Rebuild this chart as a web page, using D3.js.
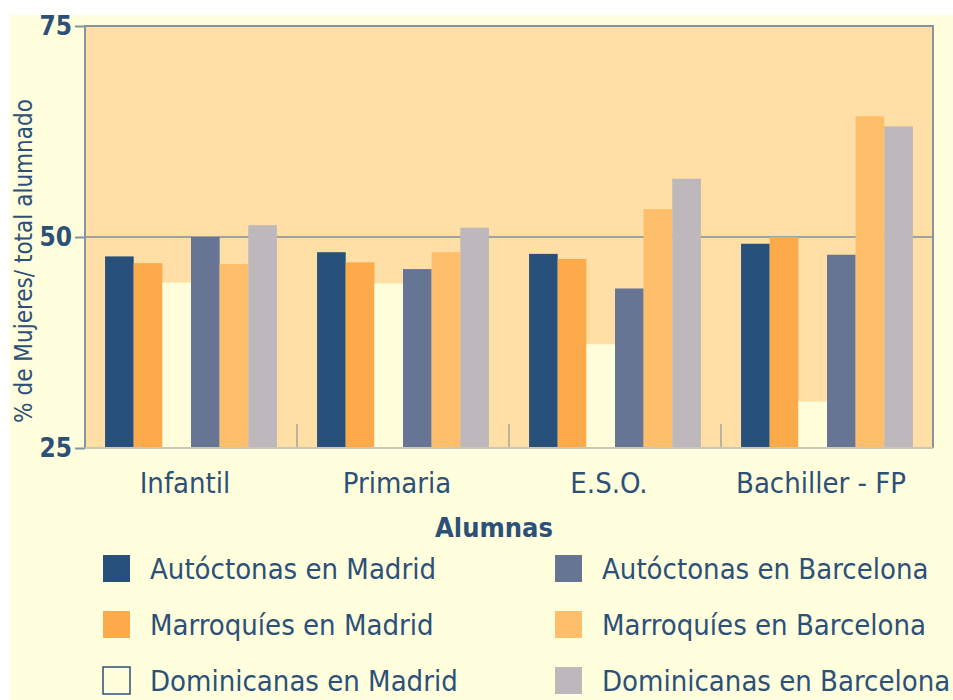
<!DOCTYPE html>
<html>
<head>
<meta charset="utf-8">
<script src="https://cdn.jsdelivr.net/npm/d3@7"></script>
<style>
  body { margin: 0; background: #ffffff; }
  text { font-family: "DejaVu Sans Condensed", "DejaVu Sans", sans-serif; fill: #2d5078; }
</style>
</head>
<body>
<div id="chart"></div>
<script>
// data
const categories = ["Infantil", "Primaria", "E.S.O.", "Bachiller - FP"];
const series = ["Autóctonas en Madrid", "Marroquíes en Madrid", "Dominicanas en Madrid",
                "Autóctonas en Barcelona", "Marroquíes en Barcelona", "Dominicanas en Barcelona"];
const autoctonasMadrid    = [47.7, 48.2, 48.0, 49.2];
const marroquiesMadrid    = [46.9, 47.0, 47.4, 50.0];
const dominicanasMadrid   = [44.6, 44.5, 37.3, 30.5];
const autoctonasBarcelona = [50.0, 46.2, 43.9, 47.9];
const marroquiesBarcelona = [46.8, 48.2, 53.3, 64.3];
const dominicanasBarcelona = [51.4, 51.1, 56.9, 63.1];
const yTicks = [25, 50, 75];

const values = [autoctonasMadrid, marroquiesMadrid, dominicanasMadrid,
                autoctonasBarcelona, marroquiesBarcelona, dominicanasBarcelona];
const colors = ["#27507a", "#fdaa4a", "#fffdda", "#677595", "#ffbe6a", "#beb7bb"];

const W = 953, H = 700;
const margin = { top: 26, left: 85 },
  width = 848,
  height = 422;

const root = d3.select("#chart").append("svg")
  .attr("width", W)
  .attr("height", H);

// pale page background (white strip on top and left)
root.append("rect")
  .attr("x", 10).attr("y", 15)
  .attr("width", W - 10).attr("height", H - 15)
  .attr("fill", "#fffedd");

const svg = root.append("g")
  .attr("transform", `translate(${margin.left},${margin.top})`);

const x0 = d3.scaleBand().domain(categories).range([0, width]).padding(0);
const x1 = d3.scaleBand().domain(series).range([0, x0.bandwidth()])
  .paddingInner(0).paddingOuter(0.7);
const y = d3.scaleLinear().domain([25, 75]).range([height, 0]);

// plot area
svg.append("rect")
  .attr("width", width).attr("height", height)
  .attr("fill", "#ffdfa5");

// gridline at 50
svg.append("line")
  .attr("x1", 0).attr("x2", width)
  .attr("y1", y(50)).attr("y2", y(50))
  .attr("stroke", "#7f8f9c").attr("stroke-width", 1.5);

// small separators between groups
svg.selectAll(".sep")
  .data(categories.slice(1))
  .join("line")
  .attr("x1", d => x0(d)).attr("x2", d => x0(d))
  .attr("y1", height - 24).attr("y2", height)
  .attr("stroke", "#8a96a0").attr("stroke-width", 1.2);

// bars
const groups = svg.selectAll(".grp")
  .data(categories)
  .join("g")
  .attr("transform", d => `translate(${x0(d)},0)`);

groups.selectAll("rect")
  .data((d, i) => series.map((s, j) => ({ s: s, v: values[j][i], c: colors[j] })))
  .join("rect")
  .attr("x", d => x1(d.s))
  .attr("width", x1.bandwidth())
  .attr("y", d => y(d.v))
  .attr("height", d => height - y(d.v))
  .attr("fill", d => d.c);

// frame: left, top, right in blue-grey, bottom light
svg.append("path")
  .attr("d", `M0,${height}V0H${width}V${height}`)
  .attr("fill", "none")
  .attr("stroke", "#8595a0").attr("stroke-width", 2);
svg.append("line")
  .attr("x1", 0).attr("x2", width)
  .attr("y1", height).attr("y2", height)
  .attr("stroke", "#c9c7bc").attr("stroke-width", 2);

// y axis
const yAxis = svg.append("g")
  .call(d3.axisLeft(y).tickValues(yTicks).tickSize(10).tickPadding(3));
yAxis.select(".domain").remove();
yAxis.selectAll(".tick line").attr("stroke", "#8595a0").attr("stroke-width", 2);
yAxis.selectAll(".tick text")
  .attr("fill", "#2d5078")
  .style("font-size", "26px")
  .style("font-weight", "bold");

// category labels
svg.selectAll(".cat")
  .data(categories)
  .join("text")
  .attr("x", d => x0(d) + x0.bandwidth() / 2 - 6)
  .attr("y", height + 45)
  .attr("text-anchor", "middle")
  .style("font-size", "29px")
  .text(d => d);

// axis titles
svg.append("text")
  .attr("x", width / 2 - 15)
  .attr("y", height + 89)
  .attr("text-anchor", "middle")
  .style("font-size", "27px")
  .style("font-weight", "bold")
  .text("Alumnas");

root.append("text")
  .attr("transform", `translate(32,${261}) rotate(-90)`)
  .attr("text-anchor", "middle")
  .style("font-size", "24px")
  .text("% de Mujeres/ total alumnado");

// legend: two columns, three rows
const legend = root.selectAll(".leg")
  .data(series)
  .join("g")
  .attr("transform", (d, i) => `translate(${i < 3 ? 103 : 555},${555 + (i % 3) * 56})`);

legend.append("rect")
  .attr("width", 27).attr("height", 27)
  .attr("fill", (d, i) => colors[i])
  .attr("stroke", (d, i) => i === 2 ? "#2d5078" : "none")
  .attr("stroke-width", 1.5);

legend.append("text")
  .attr("x", 47).attr("y", 24)
  .style("font-size", "29px")
  .text(d => d);
</script>
</body>
</html>
